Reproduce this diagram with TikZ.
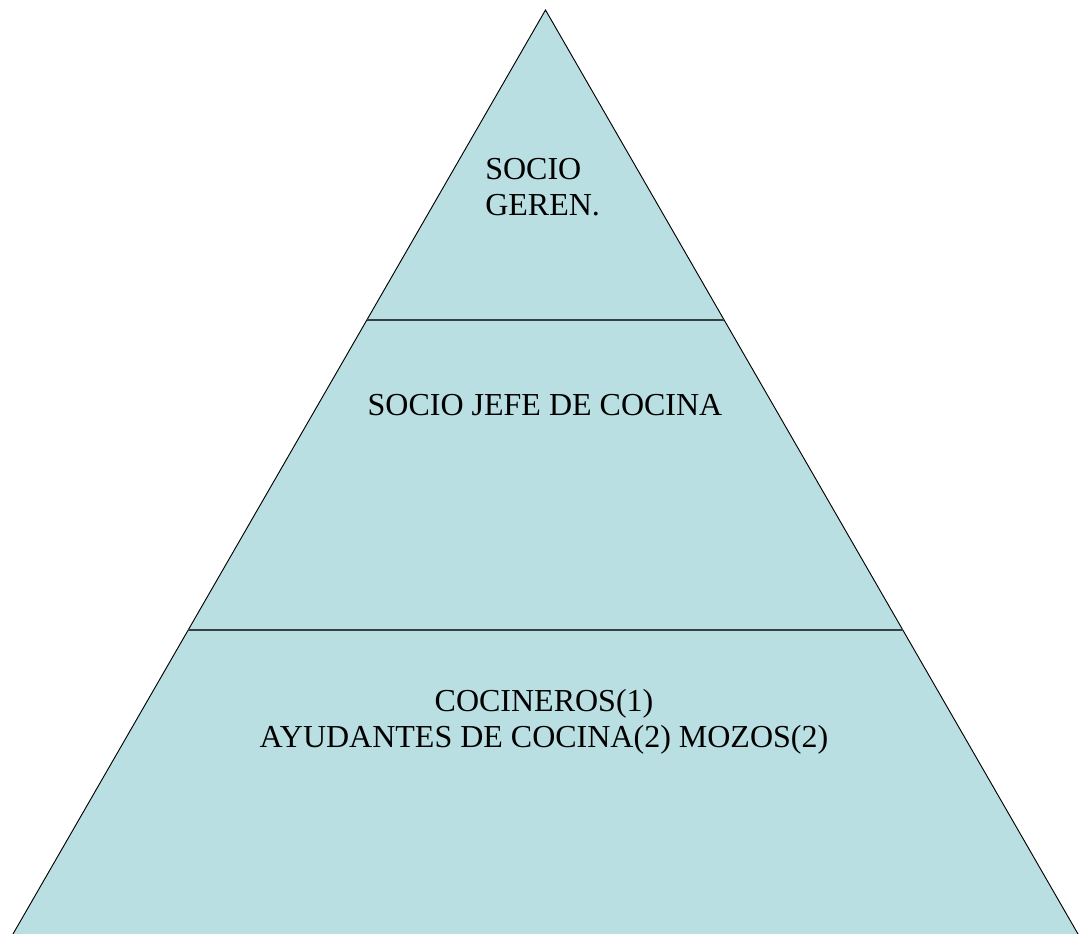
\documentclass[tikz,border=0pt]{standalone}
\usepackage{fontspec}
\setmainfont{Liberation Serif}
\usetikzlibrary{calc}
\definecolor{pyrfill}{RGB}{186,223,226}
\definecolor{divline}{RGB}{55,65,67}
\tikzset{
  level/.style={font=\fontsize{24}{27}\selectfont, inner sep=0pt, text=black},
  divider/.style={draw=divline, line width=1.8pt},
  outline/.style={draw=black, line width=0.7pt, fill=pyrfill, line join=miter}
}
\begin{document}
\begin{tikzpicture}[x=0.75pt,y=-0.75pt]
\useasboundingbox (0,0) rectangle (1081,934);
\coordinate (apex) at (545.5,10);
\coordinate (bl) at (10.7,938);
\coordinate (br) at (1080.3,938);
\draw[outline] (apex) -- (bl) -- (br) -- cycle;
\coordinate (l1) at ($(apex)!0.334!(bl)$);
\coordinate (r1) at ($(apex)!0.334!(br)$);
\coordinate (l2) at ($(apex)!0.668!(bl)$);
\coordinate (r2) at ($(apex)!0.668!(br)$);
\draw[divider] (l1) -- (r1);
\draw[divider] (l2) -- (r2);
\node[level, anchor=base west, align=left] (top) at (485,216) {SOCIO\\GEREN.};
\node[level, anchor=base] (mid) at (545,415) {SOCIO JEFE DE COCINA};
\node[level, anchor=base, align=center] (bot) at (544,747) {COCINEROS(1)\\AYUDANTES DE COCINA(2) MOZOS(2)};
\end{tikzpicture}
\end{document}
